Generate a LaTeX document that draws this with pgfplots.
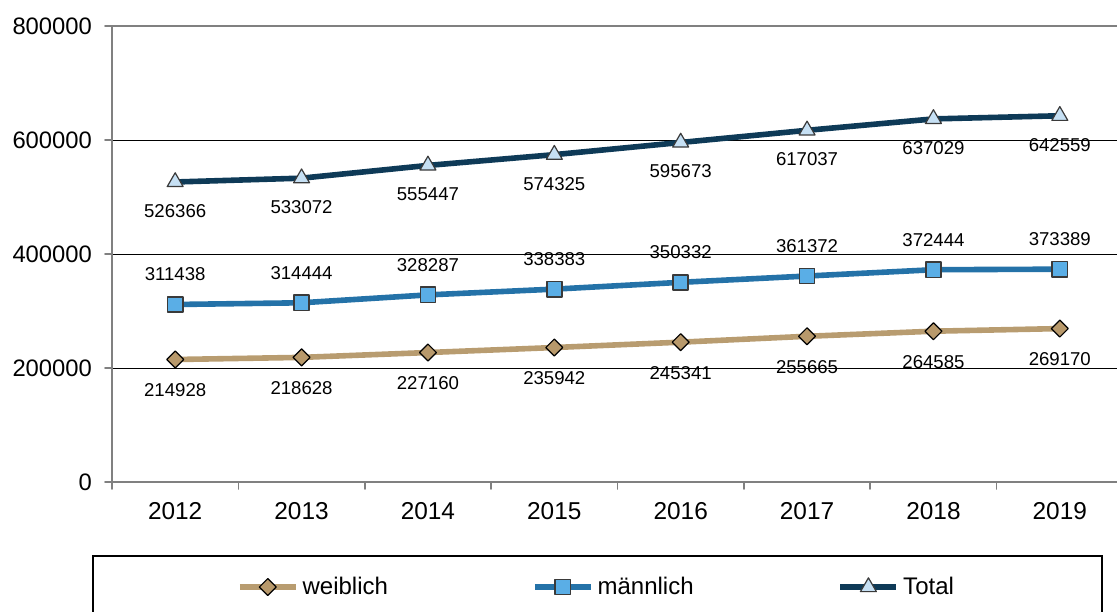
\documentclass[border=0pt]{standalone}
\usepackage{fontspec}
\setmainfont{Liberation Sans}
\usepackage{pgfplots}
\pgfplotsset{compat=1.18}
\definecolor{totline}{HTML}{0E3A57}
\definecolor{totfill}{HTML}{C6E0F4}
\definecolor{mline}{HTML}{2472A8}
\definecolor{mfill}{HTML}{5AAEE6}
\definecolor{wline}{HTML}{B89C70}
\definecolor{wfill}{HTML}{B8996B}
\definecolor{axgray}{HTML}{808080}
\definecolor{mkedge}{HTML}{3A3A3A}
\begin{document}
\begin{tikzpicture}
\path[use as bounding box] (0,0) rectangle (558.5pt,-305.5pt);
\draw[black, line width=0.6pt] (46.5pt,-278pt) rectangle (551pt,-320pt);
\begin{axis}[
  at={(56pt,-241pt)}, anchor=south west,
  width=505.5pt, height=228pt, scale only axis,
  xmin=-0.5, xmax=7.5, ymin=0, ymax=800000,
  xtick={0,...,7},
  xticklabels={2012,2013,2014,2015,2016,2017,2018,2019},
  minor xtick={-0.5,0.5,...,7.5},
  ytick={0,200000,400000,600000,800000},
  scaled y ticks=false,
  tick pos=left,
  yticklabel style={/pgf/number format/fixed,/pgf/number format/1000 sep={},font=\fontsize{11.9}{13}\selectfont, xshift=-3pt},
  xticklabel style={font=\fontsize{12.2}{13}\selectfont, yshift=-3pt},
  /pgf/number format/assume math mode=true,
  tick align=outside,
  major x tick style={draw=none},
  minor tick length=3.5pt,
  major tick length=3.5pt,
  every tick/.style={axgray, line width=0.8pt},
  ymajorgrids, grid style={black, line width=0.5pt},
  axis line style={axgray, line width=1.1pt},
  point meta=explicit symbolic,
  nodes near coords,
  every node near coord/.append style={font=\fontsize{9.3}{11}\selectfont, anchor=center, black},
  legend columns=3,
  legend style={draw=none, fill=none, at={(0.4802,-0.2303)}, anchor=center,
    font=\fontsize{12}{13}\selectfont,
    /tikz/every even column/.append style={column sep=70pt}},
  legend image code/.code={\draw[mark repeat=2,mark phase=2] plot coordinates {(0pt,0pt)(14pt,0pt)(28pt,0pt)};},
  line cap=round, line join=round,
]
\addplot[wline, line width=2.8pt, mark=square*, mark size=3pt,
  mark options={rotate=45, fill=wfill, draw=black, line width=0.6pt},
  every node near coord/.append style={yshift=-15.5pt}]
  coordinates {(0,214928)[214928] (1,218628)[218628] (2,227160)[227160] (3,235942)[235942]
               (4,245341)[245341] (5,255665)[255665] (6,264585)[264585] (7,269170)[269170]};
\addlegendentry{weiblich}
\addplot[mline, line width=2.8pt, mark=square*, mark size=3.8pt,
  mark options={fill=mfill, draw=mkedge, line width=0.8pt},
  every node near coord/.append style={yshift=15pt}]
  coordinates {(0,311438)[311438] (1,314444)[314444] (2,328287)[328287] (3,338383)[338383]
               (4,350332)[350332] (5,361372)[361372] (6,372444)[372444] (7,373389)[373389]};
\addlegendentry{männlich}
\addplot[totline, line width=2.8pt, mark=triangle*, mark size=4.6pt,
  mark options={fill=totfill, draw=mkedge, line width=0.6pt},
  every node near coord/.append style={yshift=-14.5pt}]
  coordinates {(0,526366)[526366] (1,533072)[533072] (2,555447)[555447] (3,574325)[574325]
               (4,595673)[595673] (5,617037)[617037] (6,637029)[637029] (7,642559)[642559]};
\addlegendentry{Total}
\end{axis}
\end{tikzpicture}
\end{document}
